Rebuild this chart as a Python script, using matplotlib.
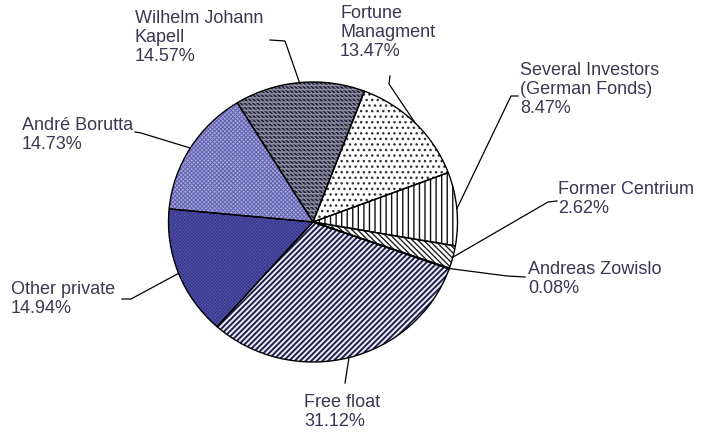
import numpy as np
import matplotlib
matplotlib.use("Agg")
import matplotlib.pyplot as plt

plt.rcParams['font.family'] = ['Liberation Sans', 'DejaVu Sans']

# shareholders, clockwise from the upper left
names = ["Wilhelm Johann\nKapell", "Fortune\nManagment", "Several Investors\n(German Fonds)",
         "Former Centrium", "Andreas Zowislo", "Free float", "Other private", "André Borutta"]
shares = [14.57, 13.47, 8.47, 2.62, 0.08, 31.12, 14.94, 14.73]

faces = ['#8e8e9e', 'white', 'white', 'white', 'white', '#ececf6', '#33338a', '#a4a4e6']
hatch_cols = ['#23233f', '#333333', '#111111', '#222222', '#222222', '#20204e', '#4c4ca2', '#6464ac']
hatches = ['\\' * 8, '.' * 3, '|' * 3, '\\' * 6, '', '/' * 6, 'x' * 10, 'x' * 8]
hatch_lw = [1.3, 1.0, 1.0, 1.0, 1.0, 1.4, 0.6, 0.7]
# second layer that cuts the Kapell stripes into short dashes
breaks = ['-' * 4, '', '', '', '', '', '', '']

# label block top-left corner (px, from top) and leader elbow points
label_pos = [(135, 10), (340, 5), (520, 62), (558, 181), (528, 261), (304, 394), (11, 281), (22, 117)]
elbows = [[(270, 41), (285, 42)], [(390, 77), (389, 85)], [(518, 97), (511, 97)],
          [(557, 202), (548, 203)], [(525, 278), (507, 277)], [(345, 384)],
          [(122, 300), (131, 300)], [(135, 133), (141, 134)]]

W, H = 706, 439
cx, cy, rx, ry = 313, 223, 144.5, 140

fig = plt.figure(figsize=(W / 100, H / 100), dpi=100)
ax = fig.add_axes([0, 0, 1, 1])


def set_hatch_width(patch, lw):
    if hasattr(patch, 'set_hatch_linewidth'):
        patch.set_hatch_linewidth(lw)


wedges, _ = ax.pie(shares, startangle=121.6, counterclock=False, radius=1)
for w, fc, hc, h, lw in zip(wedges, faces, hatch_cols, hatches, hatch_lw):
    w.set_facecolor(fc)
    w.set_edgecolor(hc)
    w.set_linewidth(0)
    w.set_hatch(h)
    set_hatch_width(w, lw)

cuts, _ = ax.pie(shares, startangle=121.6, counterclock=False, radius=1)
for w, h, fc in zip(cuts, breaks, faces):
    w.set_fill(False)
    w.set_edgecolor(fc)
    w.set_linewidth(0)
    w.set_hatch(h)
    set_hatch_width(w, 1.1)

outline, _ = ax.pie(shares, startangle=121.6, counterclock=False, radius=1,
                    wedgeprops=dict(fill=False, edgecolor='black', linewidth=1.0))

ax.set_aspect('auto')
ax.set_xlim(-cx / rx, (W - cx) / rx)
ax.set_ylim(-(H - cy) / ry, cy / ry)
ax.axis('off')

lay = fig.add_axes([0, 0, 1, 1])
lay.set_xlim(0, W)
lay.set_ylim(H, 0)
lay.axis('off')
lay.patch.set_alpha(0)

for w, name, val, (tx, ty), el in zip(wedges, names, shares, label_pos, elbows):
    mid = np.deg2rad((w.theta1 + w.theta2) / 2)
    ex, ey = cx + rx * np.cos(mid), cy - ry * np.sin(mid)
    pts = el + [(ex, ey)]
    lay.plot([p[0] for p in pts], [p[1] for p in pts], color='black', lw=0.9)
    lay.text(tx, ty, f"{name}\n{val:.2f}%", ha='left', va='top', fontsize=13,
             color='#3b3752', linespacing=1.15)

fig.savefig("out.png", dpi=100, facecolor='white')
